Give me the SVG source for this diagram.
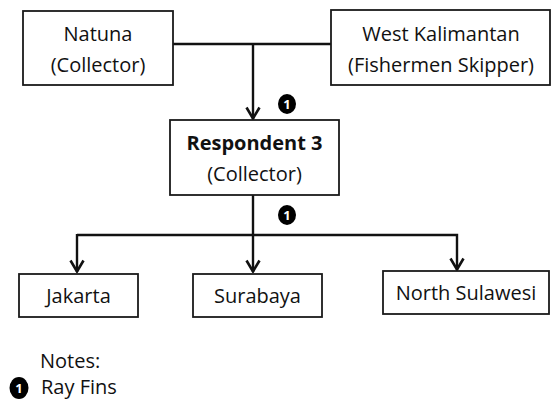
<svg xmlns="http://www.w3.org/2000/svg" width="552" height="405" viewBox="0 0 552 405">
  <style>
    .box { fill: #ffffff; stroke: #1a1a1a; stroke-width: 1.8; }
    .lbl { font-family: "Open Sans", "Liberation Sans", sans-serif; font-size: 20px; fill: #111111; text-anchor: middle; }
    .bold { font-weight: bold; }
    .edge { fill: none; stroke: #111111; stroke-width: 2.4; }
    .badge { fill: #000000; }
    .badge-num { font-family: "Open Sans", "Liberation Sans", sans-serif; font-size: 13px; font-weight: bold; fill: #ffffff; text-anchor: middle; }
    .note { font-family: "Open Sans", "Liberation Sans", sans-serif; font-size: 20px; fill: #111111; }
  </style>
  <defs>
    <marker id="arrow" viewBox="0 0 16 16" refX="15" refY="8" markerWidth="16" markerHeight="16" markerUnits="userSpaceOnUse" orient="auto">
      <path d="M3.5,1.5 L14.5,8 L3.5,14.5" fill="none" stroke="#111111" stroke-width="2.6" stroke-linejoin="miter"/>
    </marker>
  </defs>

  <!-- connectors -->
  <g id="connectors">
    <line class="edge" x1="173" y1="44" x2="331" y2="44"/>
    <line class="edge" x1="253" y1="44" x2="253" y2="119" marker-end="url(#arrow)"/>
    <line class="edge" x1="253" y1="195" x2="253" y2="272" marker-end="url(#arrow)"/>
    <polyline class="edge" points="77,235 457,235 457,270" marker-end="url(#arrow)"/>
    <line class="edge" x1="77" y1="234" x2="77" y2="272" marker-end="url(#arrow)"/>
  </g>

  <!-- flow badges -->
  <g id="badge-top">
    <ellipse class="badge" cx="287" cy="104" rx="9" ry="10"/>
    <text class="badge-num" x="287" y="108.5">1</text>
  </g>
  <g id="badge-bottom">
    <ellipse class="badge" cx="287" cy="215" rx="9" ry="10"/>
    <text class="badge-num" x="287" y="219.5">1</text>
  </g>

  <g id="natuna">
    <rect class="box" x="23" y="11" width="150" height="74"/>
    <text class="lbl" x="98" y="41">Natuna</text>
    <text class="lbl" x="98" y="72">(Collector)</text>
  </g>

  <g id="west-kalimantan">
    <rect class="box" x="331" y="10" width="219" height="75"/>
    <text class="lbl" x="441" y="41">West Kalimantan</text>
    <text class="lbl" x="441" y="72">(Fishermen Skipper)</text>
  </g>

  <g id="respondent-3">
    <rect class="box" x="170" y="120" width="169" height="75"/>
    <text class="lbl bold" x="254.5" y="150">Respondent 3</text>
    <text class="lbl" x="254.5" y="181">(Collector)</text>
  </g>

  <g id="jakarta">
    <rect class="box" x="19" y="274" width="119" height="43"/>
    <text class="lbl" x="78.5" y="303">Jakarta</text>
  </g>

  <g id="surabaya">
    <rect class="box" x="193" y="274" width="129" height="43"/>
    <text class="lbl" x="257.5" y="303">Surabaya</text>
  </g>

  <g id="north-sulawesi">
    <rect class="box" x="383" y="271" width="166" height="43"/>
    <text class="lbl" x="466" y="300">North Sulawesi</text>
  </g>

  <g id="notes">
    <text class="note" x="40" y="368">Notes:</text>
    <ellipse class="badge" cx="19" cy="388" rx="9.5" ry="11"/>
    <text class="badge-num" x="19" y="393">1</text>
    <text class="note" x="41" y="394">Ray Fins</text>
  </g>
</svg>
